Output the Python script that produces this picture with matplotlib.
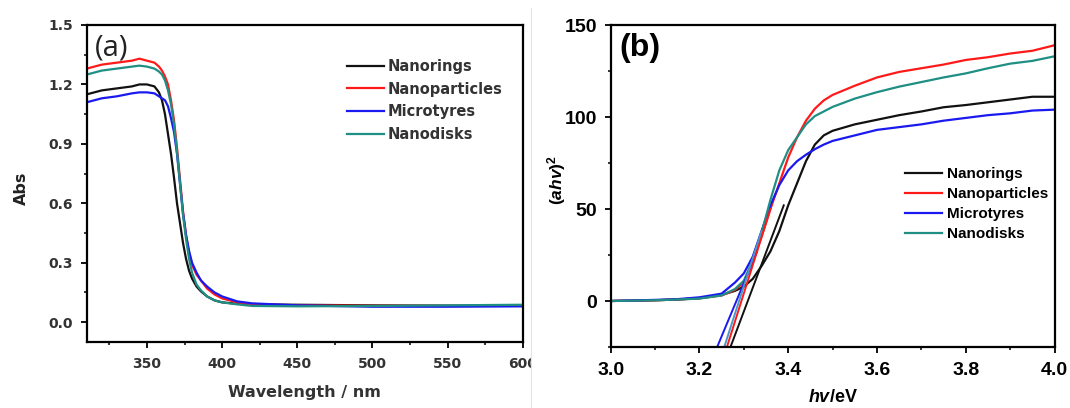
import numpy as np
import matplotlib
matplotlib.use("Agg")
import matplotlib.pyplot as plt
from matplotlib.patches import Rectangle
from matplotlib.lines import Line2D
from matplotlib.ticker import MultipleLocator

plt.rcParams['mathtext.fontset'] = 'custom'
plt.rcParams['mathtext.it'] = 'Liberation Sans:italic:bold'
plt.rcParams['mathtext.rm'] = 'Liberation Sans:bold'
plt.rcParams['mathtext.bf'] = 'Liberation Sans:bold'

# ---- panel (a): UV-vis absorbance ----
wl = [310, 320, 330, 340, 345, 350, 355, 358, 360, 362, 364, 366, 368, 370, 372,
      374, 376, 378, 380, 383, 386, 390, 395, 400, 410, 420, 450, 500, 550, 600]
abs_rings = [1.15, 1.17, 1.18, 1.19, 1.20, 1.20, 1.19, 1.16, 1.12, 1.05, 0.95, 0.85, 0.73, 0.60, 0.50,
             0.40, 0.32, 0.26, 0.22, 0.18, 0.155, 0.13, 0.11, 0.10, 0.093, 0.09, 0.088, 0.085, 0.083, 0.083]
abs_particles = [1.28, 1.30, 1.31, 1.32, 1.33, 1.32, 1.31, 1.29, 1.27, 1.24, 1.20, 1.12, 1.02, 0.88, 0.72,
                 0.56, 0.44, 0.35, 0.29, 0.24, 0.21, 0.17, 0.14, 0.12, 0.10, 0.09, 0.085, 0.083, 0.083, 0.083]
abs_tyres = [1.11, 1.13, 1.14, 1.155, 1.16, 1.16, 1.155, 1.14, 1.13, 1.12, 1.09, 1.03, 0.96, 0.85, 0.70,
             0.55, 0.44, 0.36, 0.30, 0.25, 0.21, 0.18, 0.15, 0.13, 0.105, 0.095, 0.085, 0.078, 0.078, 0.08]
abs_disks = [1.25, 1.27, 1.28, 1.29, 1.295, 1.29, 1.28, 1.265, 1.25, 1.22, 1.17, 1.10, 1.00, 0.86, 0.70,
             0.54, 0.42, 0.32, 0.25, 0.19, 0.16, 0.13, 0.11, 0.10, 0.09, 0.082, 0.08, 0.082, 0.085, 0.088]

# ---- panel (b): Tauc plot ----
ev = [3.00, 3.05, 3.10, 3.15, 3.20, 3.25, 3.28, 3.30, 3.32, 3.34, 3.36, 3.38, 3.40, 3.42,
      3.44, 3.46, 3.48, 3.50, 3.55, 3.60, 3.65, 3.70, 3.75, 3.80, 3.85, 3.90, 3.95, 4.00]
tauc_rings = [0, 0.2, 0.4, 0.8, 1.5, 3.3, 5.5, 7.8, 12, 19, 27, 38, 52, 64,
              76, 85, 90, 92.5, 96, 98.5, 101, 103, 105.3, 106.5, 108, 109.5, 111, 111]
tauc_particles = [0, 0.2, 0.4, 0.8, 1.5, 3, 6, 10, 21, 35, 50, 64, 78, 89,
                  98, 104.5, 109, 112, 117, 121.5, 124.5, 126.5, 128.5, 131, 132.5, 134.5, 136, 139]
tauc_tyres = [0, 0.3, 0.6, 1.0, 2, 4, 10, 15, 24, 38, 52, 63, 71, 76,
              79.5, 82.5, 85, 87, 90, 93, 94.5, 96, 98, 99.5, 101, 102, 103.5, 104]
tauc_disks = [0, 0.2, 0.4, 0.8, 1.3, 3, 6.5, 11, 22, 37, 55, 71, 82, 89,
              96, 100.5, 103, 105.5, 110, 113.5, 116.5, 119, 121.5, 123.7, 126.5, 129, 130.5, 133]

# band-gap extrapolation lines (start, end)
fit_rings_x, fit_rings_y = [3.27, 3.39], [-25, 52]
fit_particles_x, fit_particles_y = [3.262, 3.36], [-25, 50]
fit_tyres_x, fit_tyres_y = [3.24, 3.33], [-25, 27]
fit_disks_x, fit_disks_y = [3.256, 3.34], [-25, 38]

labels = ['Nanorings', 'Nanoparticles', 'Microtyres', 'Nanodisks']
colors = ['#111111', '#ff1a1a', '#1a1af0', '#1f8f84']

W, H = 1070, 408
fig = plt.figure(figsize=(W / 100, H / 100), dpi=100)

# ------------------------ (a)
ax1 = fig.add_axes([86.8/W, 1-342/H, 436/W, 317/H])
ax1.set_zorder(0)
for y, c, lab in zip([abs_rings, abs_particles, abs_tyres, abs_disks], colors, labels):
    ax1.plot(wl, y, color=c, lw=1.6, label=lab)
ax1.set_xlim(310, 600)
ax1.set_ylim(-0.1, 1.5)
ax1.xaxis.set_major_locator(MultipleLocator(50))
ax1.xaxis.set_minor_locator(MultipleLocator(25))
ax1.yaxis.set_minor_locator(MultipleLocator(0.15))
ax1.set_yticks([0.0, 0.3, 0.6, 0.9, 1.2, 1.5])
ax1.set_yticklabels(['0.0', '0.3', '0.6', '0.9', '1.2', '1.5'])
for s in ax1.spines.values():
    s.set_linewidth(1.6)
ax1.tick_params(which='major', direction='out', length=4, width=1.3,
                labelsize=10, labelcolor='#333333')
ax1.tick_params(axis='x', which='major', pad=7)
ax1.tick_params(axis='y', which='major', pad=6)
ax1.tick_params(which='minor', direction='out', length=2.5, width=1.1)
for t in ax1.get_xticklabels() + ax1.get_yticklabels():
    t.set_fontfamily('DejaVu Sans')
    t.set_fontweight('bold')
fig.text(304/W, 1-393/H, 'Wavelength / nm', family='DejaVu Sans', weight='bold', size=11.5,
         color='#333333', ha='center', va='center')
fig.text(21/W, 1-188/H, 'Abs', family='DejaVu Sans', weight='bold', size=11.5,
         color='#222222', rotation=90, ha='center', va='center')
ax1.text(0.019, 0.927, '(a)', transform=ax1.transAxes, family='Open Sans', size=21,
         color='#222222', va='center', ha='left')
leg1 = ax1.legend(loc='upper left', bbox_to_anchor=(0.597, 0.893), frameon=False,
                  prop={'family': 'DejaVu Sans', 'weight': 'bold', 'size': 10.5},
                  handlelength=2.5, handletextpad=0.27, labelspacing=0.52, borderpad=0,
                  borderaxespad=0)
for t in leg1.get_texts():
    t.set_color('#333333')

# white panel of the second figure overlapping the first one
fig.add_artist(Rectangle((531/W, 0), 1.0, 1 - 8/H, transform=fig.transFigure,
                         facecolor='white', edgecolor='none', zorder=1))
fig.add_artist(Line2D([531/W, 531/W], [0, 1 - 8/H], transform=fig.transFigure,
                      color='#e4e4e4', lw=0.8, zorder=1.5))

# ------------------------ (b)
ax2 = fig.add_axes([610.6/W, 1-347/H, 444/W, 322/H])
ax2.set_zorder(2)
ax2.patch.set_alpha(0)
for y, c, lab in zip([tauc_rings, tauc_particles, tauc_tyres, tauc_disks], colors, labels):
    ax2.plot(ev, y, color=c, lw=1.6, label=lab)
ax2.plot(fit_tyres_x, fit_tyres_y, color='#1a1af0', lw=1.4)
ax2.plot(fit_disks_x, fit_disks_y, color='#4a98c8', lw=1.4)
ax2.plot(fit_particles_x, fit_particles_y, color='#ff1a1a', lw=1.4)
ax2.plot(fit_rings_x, fit_rings_y, color='#111111', lw=1.4)
ax2.set_xlim(3.0, 4.0)
ax2.set_ylim(-25, 150)
ax2.xaxis.set_minor_locator(MultipleLocator(0.1))
ax2.yaxis.set_minor_locator(MultipleLocator(25))
ax2.set_xticks([3.0, 3.2, 3.4, 3.6, 3.8, 4.0])
ax2.set_xticklabels(['3.0', '3.2', '3.4', '3.6', '3.8', '4.0'])
ax2.set_yticks([0, 50, 100, 150])
for s in ax2.spines.values():
    s.set_linewidth(1.6)
ax2.tick_params(which='major', direction='out', length=4.5, width=1.3, labelsize=14)
ax2.tick_params(axis='x', which='major', pad=6)
ax2.tick_params(axis='y', which='major', pad=5)
ax2.tick_params(which='minor', direction='out', length=2.5, width=1.1)
for t in ax2.get_xticklabels() + ax2.get_yticklabels():
    t.set_fontfamily('Liberation Sans')
    t.set_fontweight('bold')
fig.text(833/W, 1-398/H, '$hv$/eV', family='Liberation Sans', weight='bold', size=13,
         ha='center', va='center')
fig.text(557/W, 1-180/H, '$(ahv)^2$', family='Liberation Sans', weight='bold', size=12.5,
         rotation=90, ha='center', va='center')
ax2.text(0.019, 0.93, '(b)', transform=ax2.transAxes, family='Liberation Sans',
         weight='bold', size=23, va='center', ha='left')
ax2.legend(loc='upper left', bbox_to_anchor=(0.663, 0.559), frameon=False,
           prop={'family': 'Liberation Sans', 'weight': 'bold', 'size': 11},
           handlelength=2.4, handletextpad=0.33, labelspacing=0.39, borderpad=0,
           borderaxespad=0)

fig.savefig('out.png', dpi=100)
